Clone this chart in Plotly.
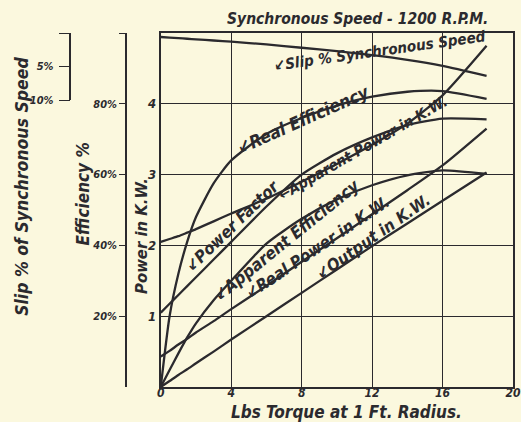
import plotly.graph_objects as go

# Torque (lbs at 1 ft radius) at which the test readings are plotted
torque = [0, 0.5, 1, 1.5, 2, 3, 4, 6, 8, 10, 12, 14, 16, 18.5]

# Per-cent curves (left efficiency scale)
real_efficiency = [0, 20, 32, 41, 48, 57.5, 64, 71.5, 76, 79.5, 82, 83.4, 83.6, 81.4]
power_factor = [21, 23.5, 26, 28.5, 31, 36, 41, 51, 60, 66, 70.5, 74, 75.8, 75.6]
apparent_efficiency = [0, 4.8, 9.5, 14, 18, 24.5, 30, 40.5, 47.5, 53, 57, 59.8, 61.2, 60.2]

# Power curves (K.W.)
apparent_power = [2.05, 2.09, 2.13, 2.18, 2.23, 2.34, 2.45, 2.66, 2.9, 3.15, 3.42, 3.72, 4.12, 4.82]
real_power = [0.43, 0.51, 0.6, 0.68, 0.77, 0.93, 1.1, 1.43, 1.77, 2.1, 2.44, 2.78, 3.13, 3.65]
output_power = [0, 0.085, 0.17, 0.25, 0.335, 0.5, 0.67, 1.0, 1.33, 1.66, 1.99, 2.31, 2.63, 3.03]

# Slip, per cent of synchronous speed
slip = [0.6, 0.68, 0.77, 0.86, 0.95, 1.12, 1.3, 1.7, 2.2, 2.7, 3.3, 4.0, 4.9, 6.4]

torque_ticks = [0, 4, 8, 12, 16, 20]
power_ticks = [1, 2, 3, 4]
eff_ticks = [20, 40, 60, 80, 100]
eff_ticktext = ["20%", "40%", "60%", "80%", ""]
slip_ticks = [0, 5, 10]
slip_ticktext = ["", "5%", "10%"]

INK = "#2b2a2e"
PAPER = "#fbf8de"
FONT = "DejaVu Sans Condensed, Liberation Sans Narrow, DejaVu Sans"


def hand(size):
    return dict(family=FONT, size=size, color=INK, style="italic", weight="bold")


fig = go.Figure()

line = dict(color=INK, width=2.3, shape="spline", smoothing=0.6)

for ys, axis in [
    (real_efficiency, "y2"),
    (power_factor, "y2"),
    (apparent_efficiency, "y2"),
    (apparent_power, "y"),
    (real_power, "y"),
    (output_power, "y"),
    (slip, "y3"),
]:
    fig.add_trace(go.Scatter(x=torque, y=ys, yaxis=axis, mode="lines",
                             line=line, hoverinfo="skip", showlegend=False))

# Curve names lettered along the curves
labels = [
    ("↙Slip % Synchronous Speed", 12.4, 4.75, -8, 15),
    ("↙Real Efficiency", 8.06, 3.77, -24, 17.5),
    ("↙Power Factor", 4.1, 2.28, -44, 16.5),
    ("←Apparent Power in K.W.", 11.5, 3.37, -30, 15),
    ("↙Apparent Efficiency", 7.15, 2.07, -39, 17),
    ("↙Real Power in K.W.", 8.9, 1.97, -34, 16.5),
    ("↙Output in K.W.", 12.1, 2.12, -35, 16.5),
]
for text, x, y, ang, size in labels:
    fig.add_annotation(text=text, x=x, y=y, xref="x", yref="y", showarrow=False,
                       textangle=ang, font=hand(size), xanchor="center",
                       yanchor="middle")

# Titles (paper fractions of the 513 px wide, 354 px high plotting frame)
titles = [
    ("Synchronous Speed - 1200 R.P.M.", 356 / 513, (387 - 19) / 354, 0, 15.5),
    ("Lbs Torque at 1 Ft. Radius.", 345 / 513, (387 - 412) / 354, 0, 17),
    ("Power in K.W.", 138 / 513, (387 - 236) / 354, -90, 16.5),
    ("Efficiency %", 80 / 513, (387 - 194) / 354, -90, 17),
    ("Slip % of Synchronous Speed", 18 / 513, (387 - 186) / 354, -90, 17.5),
]
for text, x, y, ang, size in titles:
    fig.add_annotation(text=text, x=x, y=y, xref="paper", yref="paper",
                       showarrow=False, font=hand(size), textangle=ang,
                       xanchor="center", yanchor="middle")

fig.update_layout(
    width=521, height=422,
    margin=dict(l=0, r=8, t=33, b=35),
    paper_bgcolor=PAPER, plot_bgcolor="rgba(0,0,0,0)",
    xaxis=dict(domain=[158 / 513, 1], range=[0, 20], tickvals=torque_ticks,
               showgrid=True, gridcolor=INK, gridwidth=1.4, zeroline=False,
               showline=True, linecolor=INK, linewidth=2, mirror=True,
               ticks="", tickfont=hand(12), ticklabeloverflow="allow",
               ticklabelstandoff=-6),
    yaxis=dict(range=[0, 5], tickvals=power_ticks, showgrid=True, gridcolor=INK,
               gridwidth=1.4, zeroline=False, showline=True, linecolor=INK,
               linewidth=2, mirror=True, ticks="", tickfont=hand(13)),
    yaxis2=dict(range=[0, 100], overlaying="y", anchor="free", position=123 / 513,
                side="left", tickvals=eff_ticks, ticktext=eff_ticktext,
                ticks="outside", ticklen=6, tickcolor=INK, tickwidth=1.4,
                showline=True, linecolor=INK, linewidth=1.6, showgrid=False,
                zeroline=False, tickfont=hand(11)),
    yaxis3=dict(range=[10, 0], domain=[(387 - 100) / 354, 1], anchor="free",
                position=67 / 513, side="left", tickvals=slip_ticks,
                ticktext=slip_ticktext, ticks="outside", ticklen=11, tickcolor=INK,
                tickwidth=1.4, showline=True, linecolor=INK, linewidth=1.6,
                showgrid=False, zeroline=False, tickfont=hand(11),
                ticklabelstandoff=3),
)

fig.write_html("out.html")
